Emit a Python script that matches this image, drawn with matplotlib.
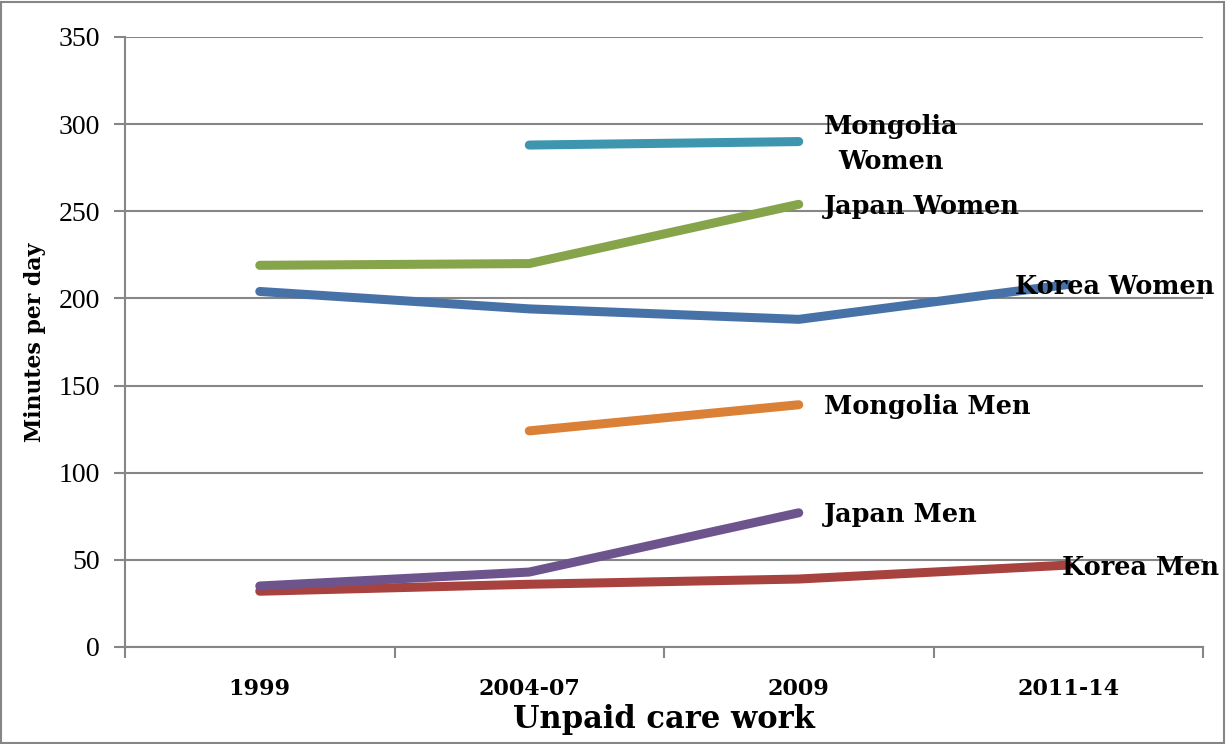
import matplotlib
matplotlib.use("Agg")
import matplotlib.pyplot as plt
import numpy as np
from matplotlib.patches import Rectangle

categories = ["1999", "2004-07", "2009", "2011-14"]
korea_women = [204, 194, 188, 208]
korea_men = [32, 36, 39, 47]
japan_women = [219, 220, 254, np.nan]
japan_men = [35, 43, 77, np.nan]
mongolia_women = [np.nan, 288, 290, np.nan]
mongolia_men = [np.nan, 124, 139, np.nan]

series = [
    ("Korea Women", korea_women, "#4672A8", (-53, -2)),
    ("Korea Men", korea_men, "#A8423F", (-6, -2)),
    ("Japan Women", japan_women, "#86A44A", (25, -2)),
    ("Japan Men", japan_men, "#6E548D", (25, -2)),
    ("Mongolia\nWomen", mongolia_women, "#3D96AE", (25, -2)),
    ("Mongolia Men", mongolia_men, "#DA8137", (25, -2)),
]

W, H = 1226, 744
fig = plt.figure(figsize=(W / 100, H / 100), dpi=100)
ax = fig.add_axes([125 / W, 1 - 647 / H, (1203 - 125) / W, (647 - 37) / H])

x = np.arange(len(categories))
grid_c = "#868686"
for name, vals, col, off in series:
    v = np.array(vals, dtype=float)
    ax.plot(x, v, color=col, lw=6.5, solid_capstyle="round", solid_joinstyle="round", zorder=3)
    idx = np.where(~np.isnan(v))[0][-1]
    ax.annotate(name, (x[idx], v[idx]), xytext=off, textcoords="offset pixels",
                ha="left", va="center", fontsize=18.4, fontweight="bold",
                family="DejaVu Serif", multialignment="center", linespacing=1.5,
                zorder=5)

ax.set_xlim(-0.5, len(categories) - 0.5)
ax.set_ylim(0, 350)
ax.set_yticks(np.arange(0, 351, 50))
ax.set_xticks(x)
ax.set_xticklabels(categories, fontsize=16, fontweight="bold", family="DejaVu Serif")
ax.set_xticks(np.arange(-0.5, len(categories), 1), minor=True)
ax.tick_params(axis="x", which="major", length=0, pad=22)
ax.tick_params(axis="x", which="minor", length=8, width=1.5, color=grid_c)
ax.tick_params(axis="y", length=8, width=1.5, color=grid_c, labelsize=20, pad=10)
for lab in ax.get_yticklabels():
    lab.set_family("Liberation Serif")

ax.grid(axis="y", color=grid_c, lw=1.5, zorder=0)
for s in ["top", "right"]:
    ax.spines[s].set_visible(False)
ax.spines["left"].set_color(grid_c)
ax.spines["left"].set_linewidth(1.5)
ax.spines["bottom"].set_color(grid_c)
ax.spines["bottom"].set_linewidth(1.5)

ax.set_ylabel("Minutes per day", fontsize=15.8, fontweight="bold", family="DejaVu Serif", labelpad=9)
ax.set_xlabel("Unpaid care work", fontsize=22, fontweight="bold", family="DejaVu Serif", labelpad=3)

fig.patches.append(Rectangle((1 / W, 1 / H), 1 - 3 / W, 1 - 3 / H, transform=fig.transFigure,
                             fill=False, edgecolor=grid_c, lw=1.5))

fig.savefig("out.png", dpi=100)
